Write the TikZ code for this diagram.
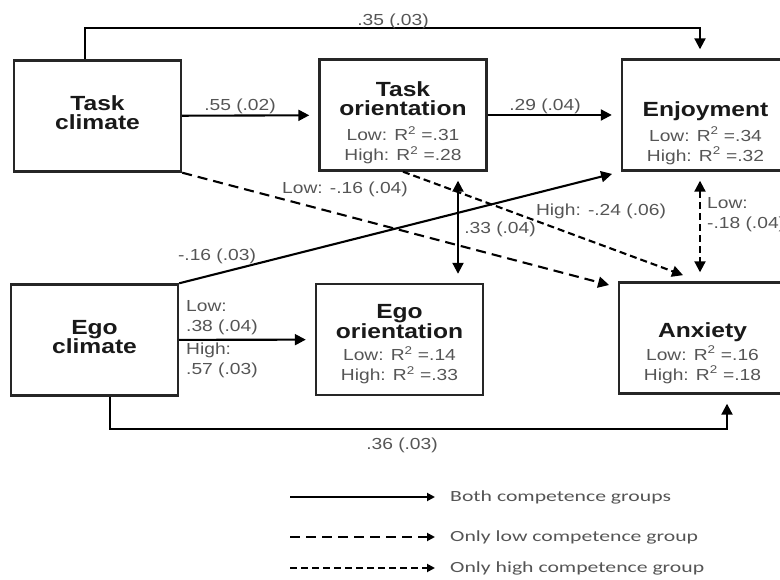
\documentclass[tikz,border=0pt]{standalone}
\usepackage{fontspec}
\setmainfont[FakeStretch=1.2]{Liberation Sans}
\newfontfamily\legfont[FakeStretch=1.4]{Carlito}
\usetikzlibrary{arrows.meta}
\definecolor{lbl}{HTML}{555555}
\newcommand{\ttl}[1]{{\fontsize{20.5}{20}\selectfont\bfseries\color{black!90}#1}}
\newcommand{\rsq}{R\textsuperscript{2} =}
\begin{document}
\begin{tikzpicture}[x=1pt,y=-1pt,
  box/.style={draw=black!85,line width=2.4pt,minimum width=167pt,minimum height=111pt,inner sep=0pt},
  txt/.style={align=center,inner sep=0pt,font=\fontsize{16}{20}\selectfont,text=lbl},
  lab/.style={inner sep=0pt,font=\fontsize{16}{20}\selectfont,text=lbl},
  arr/.style={-{Triangle[length=11pt,width=11pt]},line width=2.1pt,shorten >=9pt},
  twoway/.style={arr,{Triangle[length=11pt,width=11pt]}-{Triangle[length=11pt,width=11pt]},shorten <=9pt},
  lowd/.style={dash pattern=on 10pt off 6pt},
  highd/.style={dash pattern=on 7pt off 4pt},
  leg/.style={anchor=west,inner sep=0pt,font=\legfont\fontsize{15.5}{18}\selectfont,text=lbl},
  legarr/.style={-{Triangle[length=8pt,width=8pt]},line width=1.8pt,shorten >=15pt}]
\useasboundingbox (0,0) rectangle (780,580);
\node[box] (tc) at (97.5,116) {};
\node[box] (to) at (403,115) {};
\node[box] (enj) at (705.5,115) {};
\node[box] (ec) at (94.5,340) {};
\node[box] (eo) at (399.5,339.5) {};
\node[box] (anx) at (702.5,338) {};
\node[txt] (tcT) at ([yshift=3pt]tc.center) {\ttl{Task}\\[-1pt]\ttl{climate}};
\node[txt] (toT) at ([yshift=-8pt]to.center) {\ttl{Task}\\[-1pt]\ttl{orientation}\\[5pt]Low: \rsq.31\\High: \rsq.28};
\node[txt] (enjT) at ([yshift=-18pt]enj.center) {\ttl{Enjoyment}\\[5pt]Low: \rsq.34\\High: \rsq.32};
\node[txt] (ecT) at ([yshift=3pt]ec.center) {\ttl{Ego}\\[-1pt]\ttl{climate}};
\node[txt] (eoT) at ([yshift=-5pt]eo.center) {\ttl{Ego}\\\ttl{orientation}\\[2pt]Low: \rsq.14\\High: \rsq.33};
\node[txt] (anxT) at ([yshift=-15pt]anx.center) {\ttl{Anxiety}\\[3pt]Low: \rsq.16\\High: \rsq.18};
\draw[arr] ([xshift=-12.5pt]tc.north) -- ++(0,-31) -| ([xshift=-5.5pt]enj.north);
\draw[arr] (tc) -- (to);
\draw[arr] (to) -- (enj);
\draw[arr] (ec.north east) -- (enj.south west);
\draw[arr,lowd] (tc.south east) -- ([yshift=-6pt]anx.north west);
\draw[arr,highd] (to.south) -- ([xshift=-11pt,yshift=3pt]anx.north);
\draw[twoway] ([xshift=55pt]to.south) -- ([xshift=55pt]to.south |- eo.north);
\draw[twoway,highd] ([xshift=-5.5pt]enj.south) -- ([xshift=-5.5pt]enj.south |- anx.north);
\draw[arr] (ec) -- (eo);
\draw[arr] ([xshift=15.5pt]ec.south) -- ++(0,32) -| ([xshift=24.5pt]anx.south);
\node[lab] (p1) at (393,21) {.35 (.03)};
\node[lab] (p2) at (240,106) {.55 (.02)};
\node[lab] (p3) at (545,106) {.29 (.04)};
\node[lab] (p4) at (217,256) {-.16 (.03)};
\node[lab] (p5) at (345,189) {Low: -.16 (.04)};
\node[lab] (p6) at (601,211) {High: -.24 (.06)};
\node[lab] (p7) at (500,229) {.33 (.04)};
\node[lab,align=left,anchor=north west] (p8) at (707,197) {Low:\\-.18 (.04)};
\node[lab,align=left,anchor=north west] (p9) at (186,300) {Low:\\.38 (.04)};
\node[lab,align=left,anchor=north west] (p10) at (186,343) {High:\\.57 (.03)};
\node[lab] (p11) at (402,445) {.36 (.03)};
\coordinate (a0) at (290,497);
\coordinate (b0) at (290,537);
\coordinate (c0) at (290,568);
\node[leg] (a1) at (450,497) {Both competence groups};
\node[leg] (b1) at (450,537) {Only low competence group};
\node[leg] (c1) at (450,568) {Only high competence group};
\draw[legarr] (a0) -- (a1.west);
\draw[legarr,lowd] (b0) -- (b1.west);
\draw[legarr,highd] (c0) -- (c1.west);
\end{tikzpicture}
\end{document}
